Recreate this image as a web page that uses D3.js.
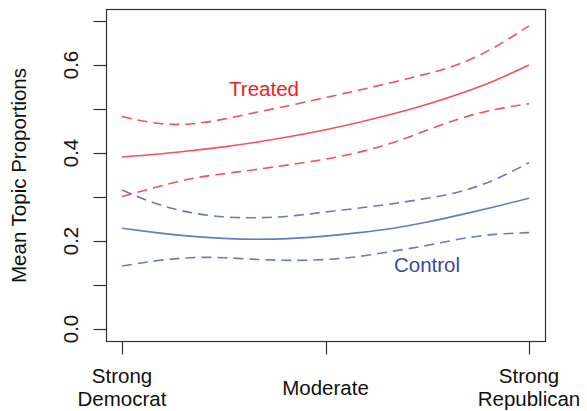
<!DOCTYPE html>
<html>
<head>
<meta charset="utf-8">
<script src="https://cdn.jsdelivr.net/npm/d3@7"></script>
<style>
  html, body { margin: 0; padding: 0; background: #fff; }
  svg { display: block; }
  text { font-family: "Liberation Sans", Arial, Helvetica, sans-serif; }
</style>
</head>
<body>
<svg id="chart" width="587" height="411"></svg>
<script>
// Party identification scale (1 = strong Democrat, 7 = strong Republican)
const ideology = [1, 1.5, 2, 2.5, 3, 3.5, 4, 4.5, 5, 5.5, 6, 6.5, 7];

// Treated group: estimated mean topic proportion with 95% bounds
const treatedMean  = [0.391, 0.397, 0.405, 0.414, 0.425, 0.438, 0.453, 0.470, 0.489, 0.511, 0.536, 0.565, 0.600];
const treatedUpper = [0.483, 0.468, 0.466, 0.477, 0.493, 0.509, 0.526, 0.543, 0.561, 0.580, 0.604, 0.641, 0.689];
const treatedLower = [0.301, 0.322, 0.341, 0.353, 0.363, 0.374, 0.386, 0.402, 0.424, 0.452, 0.479, 0.499, 0.512];

// Control group
const controlMean  = [0.229, 0.219, 0.211, 0.206, 0.204, 0.206, 0.211, 0.219, 0.229, 0.243, 0.260, 0.278, 0.297];
const controlUpper = [0.316, 0.285, 0.265, 0.255, 0.253, 0.257, 0.266, 0.275, 0.285, 0.297, 0.313, 0.340, 0.378];
const controlLower = [0.143, 0.155, 0.162, 0.162, 0.158, 0.156, 0.158, 0.165, 0.177, 0.190, 0.205, 0.215, 0.219];

// Axis ticks and labels
const xTickValues = [1, 4, 7];
const xTickLabels = [["Strong", "Democrat"], ["Moderate"], ["Strong", "Republican"]];
const yTickValues = [0, 0.1, 0.2, 0.3, 0.4, 0.5, 0.6, 0.7];
const yLabelValues = [0, 0.2, 0.4, 0.6];

const svg = d3.select("#chart");

const x = d3.scaleLinear().domain([1, 7]).range([122, 529]);
const y = d3.scaleLinear().domain([0, 0.7]).range([329, 21]);

const fontSize = 20.5;
const redLine = "#f0545c";
const blueLine = "#6a79c0";

// Plot frame (R-style 4% padding around the data range)
const bx0 = Math.round(x(0.76)) + 0.5, bx1 = Math.round(x(7.24)) + 0.5;
const by0 = Math.round(y(0.728)) + 0.5, by1 = Math.round(y(-0.028)) + 0.5;
svg.append("rect")
  .attr("x", bx0).attr("y", by0)
  .attr("width", bx1 - bx0).attr("height", by1 - by0)
  .attr("fill", "none").attr("stroke", "#333").attr("stroke-width", 1.2);

// Y axis ticks and rotated labels
const yAxis = svg.append("g");
yAxis.selectAll("line").data(yTickValues).join("line")
  .attr("x1", bx0 - 13).attr("x2", bx0)
  .attr("y1", d => Math.round(y(d)) + 0.5).attr("y2", d => Math.round(y(d)) + 0.5)
  .attr("stroke", "#333").attr("stroke-width", 1.2);
yAxis.selectAll("text").data(yLabelValues).join("text")
  .attr("transform", d => `translate(78,${y(d)}) rotate(-90)`)
  .attr("text-anchor", "middle")
  .attr("font-size", fontSize)
  .attr("fill", "#111")
  .text(d => d3.format(".1f")(d));

svg.append("text")
  .attr("transform", `translate(26,${(by0 + by1) / 2}) rotate(-90)`)
  .attr("text-anchor", "middle")
  .attr("font-size", fontSize)
  .attr("fill", "#111")
  .text("Mean Topic Proportions");

// X axis ticks and two-line labels
const xAxis = svg.append("g");
xAxis.selectAll("line").data(xTickValues).join("line")
  .attr("x1", d => Math.round(x(d)) + 0.5).attr("x2", d => Math.round(x(d)) + 0.5)
  .attr("y1", by1).attr("y2", by1 + 13)
  .attr("stroke", "#333").attr("stroke-width", 1.2);
xAxis.selectAll("text").data(xTickValues).join("text")
  .attr("text-anchor", "middle")
  .attr("font-size", fontSize)
  .attr("fill", "#111")
  .each(function(d, i) {
    const lines = xTickLabels[i];
    const base = lines.length === 1 ? 395 : 383;
    d3.select(this).selectAll("tspan").data(lines).join("tspan")
      .attr("x", x(d))
      .attr("y", (l, j) => base + j * 23)
      .text(l => l);
  });

// Curves
const line = d3.line()
  .x((d, i) => x(ideology[i]))
  .y(d => y(d))
  .curve(d3.curveNatural);

const series = [
  { values: treatedUpper, color: redLine, dashed: true },
  { values: treatedLower, color: redLine, dashed: true },
  { values: treatedMean,  color: redLine, dashed: false },
  { values: controlUpper, color: blueLine, dashed: true },
  { values: controlLower, color: blueLine, dashed: true },
  { values: controlMean,  color: blueLine, dashed: false }
];

svg.append("g").selectAll("path").data(series).join("path")
  .attr("d", d => line(d.values))
  .attr("fill", "none")
  .attr("stroke", d => d.color)
  .attr("stroke-width", 1.6)
  .attr("stroke-dasharray", d => d.dashed ? "10,6" : null);

// Group labels
svg.append("text")
  .attr("x", 264).attr("y", 95.5)
  .attr("text-anchor", "middle")
  .attr("font-size", fontSize)
  .attr("fill", "#ee2027")
  .text("Treated");

svg.append("text")
  .attr("x", 427).attr("y", 272)
  .attr("text-anchor", "middle")
  .attr("font-size", fontSize)
  .attr("fill", "#3a4aa6")
  .text("Control");
</script>
</body>
</html>
